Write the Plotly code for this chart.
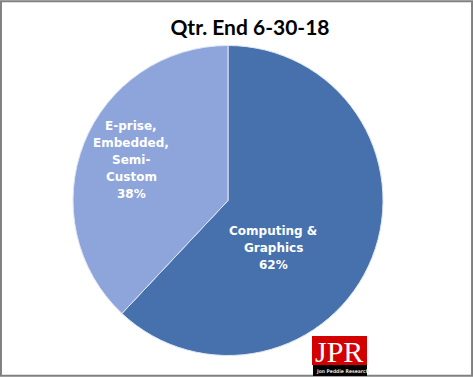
import plotly.graph_objects as go

categories = ["Computing &<br>Graphics", "E-prise,<br>Embedded,<br>Semi-<br>Custom"]
values = [62, 38]
colors = ["#4671ad", "#8da5da"]
title_text = "Qtr. End 6-30-18"

W, H = 473, 377
# label centres (pixels) for each slice
label_pos = [(273, 248), (131, 160)]
line_gap = 17

total = sum(values)

fig = go.Figure(go.Pie(
    labels=categories,
    values=values,
    sort=False,
    direction="clockwise",
    rotation=0,
    marker=dict(colors=colors, line=dict(color="#dfe6f3", width=1)),
    textinfo="none",
    showlegend=False,
    hoverinfo="label+percent",
    domain=dict(x=[73 / W, 383 / W], y=[1 - 356 / H, 1 - 45 / H]),
))

annotations = []
for cat, v, (px, py) in zip(categories, values, label_pos):
    lines = cat.split("<br>") + ["%d%%" % round(100 * v / total)]
    n = len(lines)
    for i, ln in enumerate(lines):
        y = py + (i - (n - 1) / 2) * line_gap
        annotations.append(dict(
            text="<b>%s</b>" % ln,
            xref="paper", yref="paper", x=px / W, y=1 - y / H,
            xanchor="center", yanchor="middle", showarrow=False, align="center",
            font=dict(family="DejaVu Sans", size=12, color="white"),
        ))

annotations += [
    dict(text="JPR", xref="paper", yref="paper", x=339 / W, y=1 - 351 / H,
         xanchor="center", yanchor="middle", showarrow=False,
         font=dict(family="Liberation Serif", size=30, color="white")),
    dict(text="<b>Jon Peddie Research</b>", xref="paper", yref="paper", x=342 / W, y=1 - 370.5 / H,
         xanchor="center", yanchor="middle", showarrow=False,
         font=dict(family="DejaVu Sans Condensed", size=5, color="#dddddd")),
]

fig.update_layout(
    width=W, height=H,
    margin=dict(l=0, r=0, t=0, b=0),
    paper_bgcolor="white",
    plot_bgcolor="white",
    title=dict(text="<b>" + title_text + "</b>", x=250 / W, xanchor="center",
               y=1 - 28 / H, yanchor="middle",
               font=dict(family="Lato", size=21, color="black")),
    shapes=[
        dict(type="rect", xref="paper", yref="paper", x0=0.002, y0=0.003, x1=0.998, y1=0.997,
             line=dict(color="#808080", width=2)),
        dict(type="rect", xref="paper", yref="paper",
             x0=312 / W, x1=367 / W, y0=1 - 365 / H, y1=1 - 336 / H,
             fillcolor="#d40000", line=dict(width=0)),
        dict(type="rect", xref="paper", yref="paper",
             x0=313 / W, x1=367 / W, y0=1 - 376 / H, y1=1 - 365 / H,
             fillcolor="black", line=dict(width=0)),
    ],
    annotations=annotations,
)

fig.write_html("out.html")
